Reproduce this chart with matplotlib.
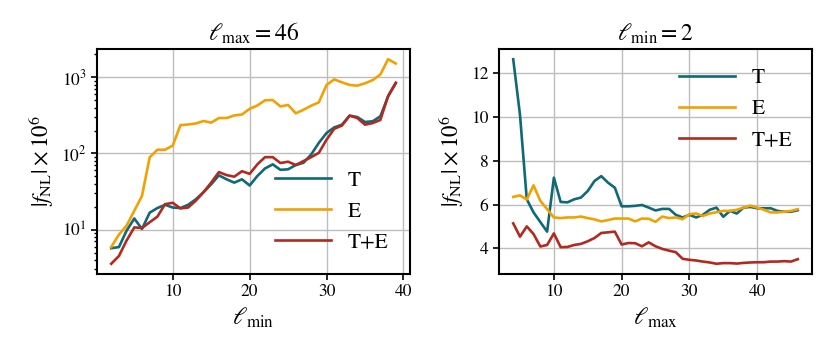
import numpy as np
import matplotlib
matplotlib.use("Agg")
import matplotlib.pyplot as plt

plt.rcParams['font.family'] = ['STIXGeneral', 'Liberation Serif', 'DejaVu Serif']
plt.rcParams['mathtext.fontset'] = 'stix'

# Left panel: l_max = 46, varying l_min
lmin = list(range(2, 40))
left_T = [5.7, 5.9, 9.7, 14.0, 10.2, 16.7, 19.2, 21.2, 19.5, 19.2, 21.2, 25, 31, 39.4, 51.6,
          45.8, 41.4, 45.8, 38, 50.6, 63.6, 72, 61, 62, 70.5, 75.5, 97, 138, 186, 220, 239,
          314, 301, 259, 265, 308, 560, 835]
left_E = [5.9, 8.6, 11.3, 17.7, 27.7, 89, 112, 112, 127, 236, 240, 248, 267, 254, 292,
          292, 316, 325, 386, 427, 500, 503, 415, 434, 337, 375, 424, 470, 795, 940, 860,
          795, 778, 835, 920, 1090, 1730, 1520]
left_TE = [3.56, 4.5, 7.2, 10.7, 10.5, 12.5, 14.8, 21.6, 22.5, 19.0, 19.5, 24, 31, 41.5, 57,
           52, 49.6, 58.5, 54, 72, 89.5, 89.5, 75, 78, 70.5, 79.5, 89.5, 102, 152, 211, 233,
           314, 292, 239, 251, 276, 570, 850]

# Right panel: l_min = 2, varying l_max
lmax = list(range(4, 47))
right_T = [12.65, 10.1, 6.24, 5.64, 5.2, 4.76, 7.23, 6.12, 6.1, 6.24, 6.32, 6.62, 7.08, 7.3,
           7.0, 6.77, 5.92, 5.92, 5.94, 5.98, 5.86, 5.73, 5.8, 5.8, 5.53, 5.41, 5.53, 5.41,
           5.53, 5.76, 5.86, 5.44, 5.71, 5.59, 5.86, 5.89, 5.83, 5.83, 5.83, 5.71, 5.67,
           5.67, 5.74]
right_E = [6.35, 6.42, 6.23, 6.88, 6.17, 5.79, 5.41, 5.38, 5.41, 5.41, 5.45, 5.38, 5.32,
           5.23, 5.29, 5.36, 5.36, 5.36, 5.23, 5.36, 5.35, 5.21, 5.45, 5.38, 5.41, 5.33,
           5.56, 5.59, 5.48, 5.59, 5.65, 5.71, 5.71, 5.76, 5.86, 5.95, 5.86, 5.76, 5.64,
           5.64, 5.67, 5.71, 5.79]
right_TE = [5.14, 4.53, 5.0, 4.65, 4.08, 4.15, 4.68, 4.05, 4.06, 4.15, 4.2, 4.32, 4.47, 4.7,
            4.73, 4.76, 4.17, 4.24, 4.23, 4.09, 4.27, 4.09, 3.97, 3.89, 3.82, 3.52, 3.47,
            3.44, 3.39, 3.35, 3.29, 3.32, 3.32, 3.3, 3.33, 3.35, 3.36, 3.36, 3.39, 3.39,
            3.41, 3.39, 3.5]

labels = ['T', 'E', 'T+E']
colors = ['#0f6977', '#f0a202', '#b22a1f']

fig = plt.figure(figsize=(8.3, 3.56), dpi=100)
ax1 = fig.add_axes([97/830, 1-274/356, (410-97)/830, (274-49)/356])
ax2 = fig.add_axes([499/830, 1-274/356, (812-499)/830, (274-49)/356])

for ax, xs, ys in [(ax1, lmin, [left_T, left_E, left_TE]),
                   (ax2, lmax, [right_T, right_E, right_TE])]:
    for y, lab, c in zip(ys, labels, colors):
        ax.plot(xs, y, color=c, lw=1.9, label=lab)
    ax.grid(True, color='#bdbdbd', lw=1.0)
    ax.set_axisbelow(True)
    for s in ax.spines.values():
        s.set_linewidth(1.5)
    ax.tick_params(labelsize=12.5, width=1.2, length=4)
    ax.set_ylabel(r'$|f_{\rm NL}|\times10^6$', fontsize=16.5)

ax1.set_yscale('log')
ax1.tick_params(which='minor', width=1.0, length=2.5)
ax1.set_xticks([10, 20, 30, 40])
ax1.set_xlabel(r'$\ell_{\rm min}$', fontsize=17.5)
ax1.set_title(r'$\ell_{\rm max} = 46$', fontsize=17)
ax1.legend(loc='lower right', frameon=False, fontsize=15.5, handlelength=2.6,
           labelspacing=0.5, borderaxespad=0.6)

ax2.set_xticks([10, 20, 30, 40])
ax2.set_yticks([4, 6, 8, 10, 12])
ax2.set_xlabel(r'$\ell_{\rm max}$', fontsize=17.5)
ax2.set_title(r'$\ell_{\rm min} = 2$', fontsize=17)
ax2.legend(loc='upper right', frameon=False, fontsize=15.5, handlelength=2.6,
           labelspacing=0.5, borderaxespad=0.5)

fig.savefig('out.png', dpi=100)
